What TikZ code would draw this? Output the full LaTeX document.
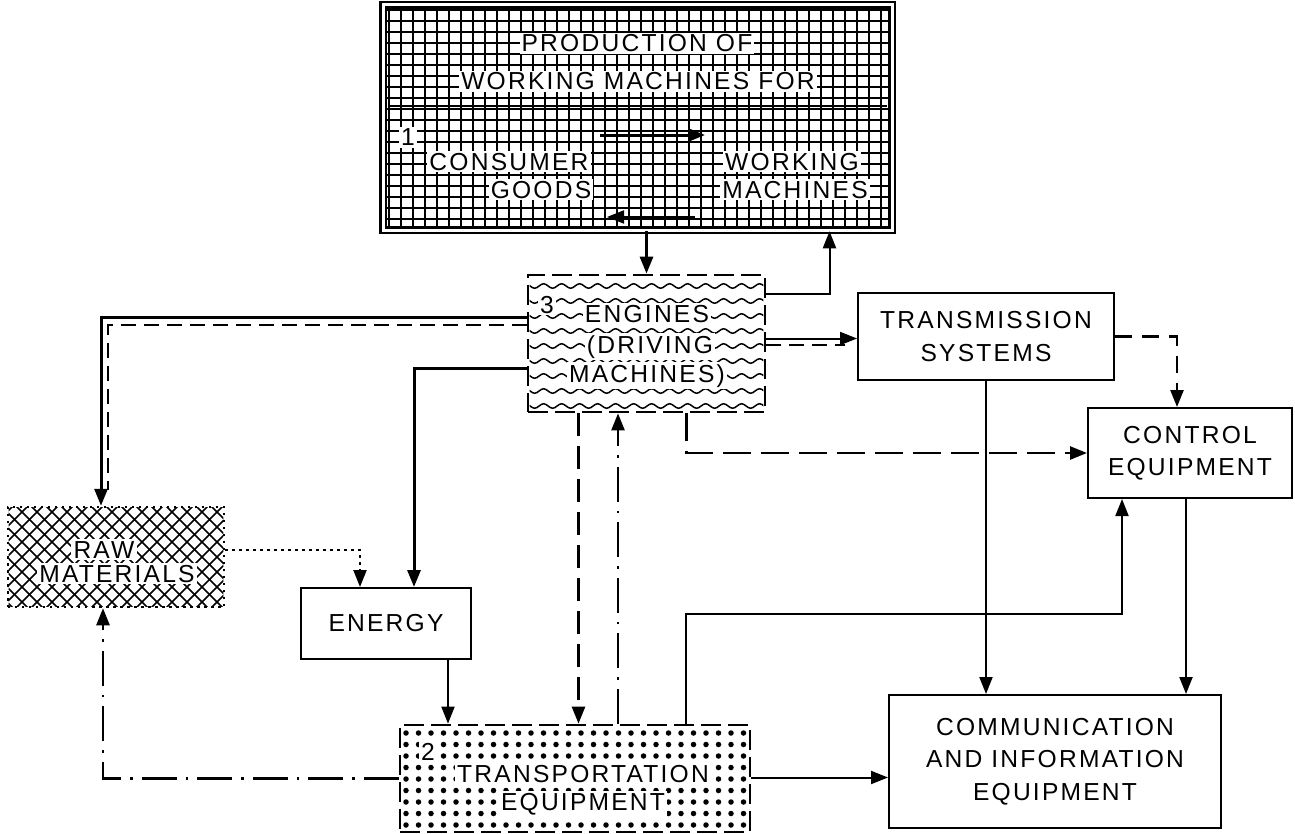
\documentclass[tikz,border=0pt]{standalone}
\usepackage{fontspec}
\newfontfamily\labelfont{Liberation Sans}[LetterSpace=9]
\newcommand{\boxfont}{\labelfont\fontsize{14pt}{18.5pt}\selectfont}
\usetikzlibrary{
  arrows.meta, calc, backgrounds, decorations.pathmorphing
}
\tikzset{
  plainbox/.style={draw, line width=0.4mm, align=center, font=\boxfont, inner sep=0pt},
  prodbox/.style={draw, double, line width=0.5mm, double distance=0.6mm},
  engbox/.style={draw, line width=0.55mm, dash pattern=on 4mm off 1.4mm},
  rawbox/.style={draw, line width=0.5mm, dash pattern=on 0.5mm off 0.9mm},
  tag/.style={fill=white, inner sep=1.2pt, font=\boxfont, anchor=base},
  arr/.style={-{Triangle[length=3.4mm,width=2.6mm]}, line width=0.4mm},
  thickarr/.style={arr, line width=0.6mm},
  dline/.style={line width=0.4mm, dash pattern=on 3mm off 1.6mm},
  dasharr/.style={arr, dash pattern=on 4.6mm off 2mm},
  dotarr/.style={arr, line width=0.45mm, dash pattern=on 0.6mm off 0.8mm},
  dashdotarr/.style={arr, line width=0.5mm, dash pattern=on 7mm off 1.8mm on 0.5mm off 1.8mm},
  gridline/.style={line width=0.25mm},
  hatchline/.style={line width=0.3mm},
  wave/.style={decorate, decoration={snake, segment length=3.6mm, amplitude=0.45mm},
               line width=0.3mm},
}

\begin{document}
\begin{tikzpicture}[x=0.2mm, y=-0.2mm]
  \useasboundingbox (0,0) rectangle (1295,834);

  % boxes
  \node[prodbox, minimum width=101.8mm, minimum height=45mm] (prod) at (637.5,117.5) {};
  \node[engbox, minimum width=47.4mm, minimum height=27.4mm] (eng) at (646.5,343.5) {};
  \node[plainbox, minimum width=51.2mm, minimum height=17.4mm] (trans) at (986,336.5)
    {TRANSMISSION\\SYSTEMS};
  \node[plainbox, minimum width=40.8mm, minimum height=18mm] (ctrl) at (1190,453)
    {CONTROL\\EQUIPMENT};
  \node[plainbox, minimum width=66.4mm, minimum height=26.6mm] (comm) at (1055,761.5)
    {COMMUNICATION\\AND INFORMATION\\EQUIPMENT};
  \node[plainbox, minimum width=34mm, minimum height=14.2mm] (energy) at (386,623.5) {ENERGY};
  \node[rawbox, minimum width=43.2mm, minimum height=20mm] (raw) at (116,557) {};
  \node[engbox, minimum width=70mm, minimum height=21.4mm] (transp) at (575,778.5) {};

  % fillings
  \begin{scope}[on background layer]
    \begin{scope}
      \clip ($(prod.south west)+(5,-5)$) rectangle ($(prod.north east)+(-5,5)$);
      \foreach \gx in {389,401,...,889} \draw[gridline] (\gx,0) -- (\gx,240);
      \foreach \gy in {10,21,...,230} \draw[gridline] (380,\gy) -- (900,\gy);
    \end{scope}
    \begin{scope}
      \clip ($(eng.south west)+(3,-3)$) rectangle ($(eng.north east)+(-3,3)$);
      \foreach \wy in {286,301,...,406} \draw[wave] (520,\wy) -- (780,\wy);
    \end{scope}
    \begin{scope}
      \clip ($(raw.south west)+(2,-2)$) rectangle ($(raw.north east)+(-2,2)$);
      \foreach \d in {-110,-95,...,240}{
        \draw[hatchline] (\d,500) -- ++(110,110);
        \draw[hatchline] (\d,614) -- ++(110,-110);
      }
    \end{scope}
    \begin{scope}
      \clip ($(transp.south west)+(3,-3)$) rectangle ($(transp.north east)+(-3,3)$);
      \foreach \dx in {406,418.5,...,750}
        \foreach \dy in {733,744.5,...,834}
          \fill (\dx,\dy) circle (0.55mm);
    \end{scope}
  \end{scope}

  % inside production
  \draw[line width=0.5mm] (388,106) -- (887,106);
  \draw[line width=0.4mm] (653,106) -- (653,222);
  \node[tag] (prodt1) at (637,52) {PRODUCTION OF};
  \node[tag] (prodt2) at (638,90) {WORKING MACHINES FOR};
  \node[tag] (num1) at (408,146) {1};
  \node[tag] (cons1) at (509,170) {CONSUMER};
  \node[tag] (cons2) at (541,198) {GOODS};
  \node[tag] (work1) at (792,170) {WORKING};
  \node[tag] (work2) at (795,198) {MACHINES};
  \coordinate (cgout) at (600,135);
  \coordinate (wmin) at (705,135);
  \coordinate (wmout) at (695,217);
  \coordinate (cgin) at (607,217);
  \draw[thickarr] (cgout) -- (wmin);
  \draw[arr] (wmout) -- (cgin);

  % labels on patterns
  \node[tag] (num3) at (547,313) {3};
  \node[tag] (engt1) at (647,322) {ENGINES};
  \node[tag] (engt2) at (650,353) {(DRIVING};
  \node[tag] (engt3) at (647,382) {MACHINES)};
  \node[tag] (rawt1) at (104,558) {RAW};
  \node[tag] (rawt2) at (117,582) {MATERIALS};
  \node[tag] (num2) at (428,760) {2};
  \node[tag] (trpt1) at (583,782) {TRANSPORTATION};
  \node[tag] (trpt2) at (583,810) {EQUIPMENT};

  % production <-> engines
  \draw[thickarr] (prod.south -| eng.north) -- (eng.north);
  \draw[arr] ($(eng.east)+(0,-50)$) -| ($(prod.south)+(192,0)$);

  % engines -> transmission
  \draw[arr] ($(eng.east)+(0,-5)$) coordinate (e2) -- (e2 -| trans.west);
  \draw[dline] ($(eng.east)+(0,1)$) coordinate (e3) -- ($(e3 -| trans.west)+(-12,0)$);

  % engines -> raw materials
  \draw[thickarr] ($(eng.west)+(0,-26)$) -| ($(raw.north)+(-15,0)$);
  \draw[dline] ($(eng.west)+(0,-19)$) -| ($(raw.north)+(-8,-16)$);

  % into energy
  \draw[thickarr] ($(eng.west)+(0,25)$) -| ($(energy.north)+(28,0)$);
  \draw[dotarr] ($(raw.east)+(0,-7)$) -| ($(energy.north)+(-26,0)$);
  \draw[arr] ($(energy.south)+(62,0)$) coordinate (e4) -- (e4 |- transp.north);

  % engines <-> transportation
  \draw[dasharr, line width=0.5mm] ($(eng.south)+(-68,0)$) coordinate (e5) -- (e5 |- transp.north);
  \draw[dashdotarr] ($(transp.north)+(43,0)$) coordinate (t1) -- (t1 |- eng.south);

  % to control
  \draw[dasharr, line width=0.5mm, dash pattern=on 5.6mm off 2mm] ($(eng.south)+(40,0)$) |- (ctrl.west);
  \draw[dasharr, line width=0.5mm, dash pattern=on 3.4mm off 2mm] (trans.east) -| ($(ctrl.north)+(-13,0)$);
  \draw[arr] ($(transp.north)+(111,0)$) -- ++(0,-110) -| ($(ctrl.south)+(-68,0)$);

  % to communication
  \draw[arr] (trans.south) -- (trans.south |- comm.north);
  \draw[arr] ($(ctrl.south)+(-4,0)$) coordinate (c1) -- (c1 |- comm.north);
  \draw[arr] ($(transp.east)+(0,-1)$) coordinate (t2) -- (t2 -| comm.west);

  % transportation -> raw materials
  \draw[dashdotarr] (transp.west) -| ($(raw.south)+(-13,0)$);
\end{tikzpicture}
\end{document}
